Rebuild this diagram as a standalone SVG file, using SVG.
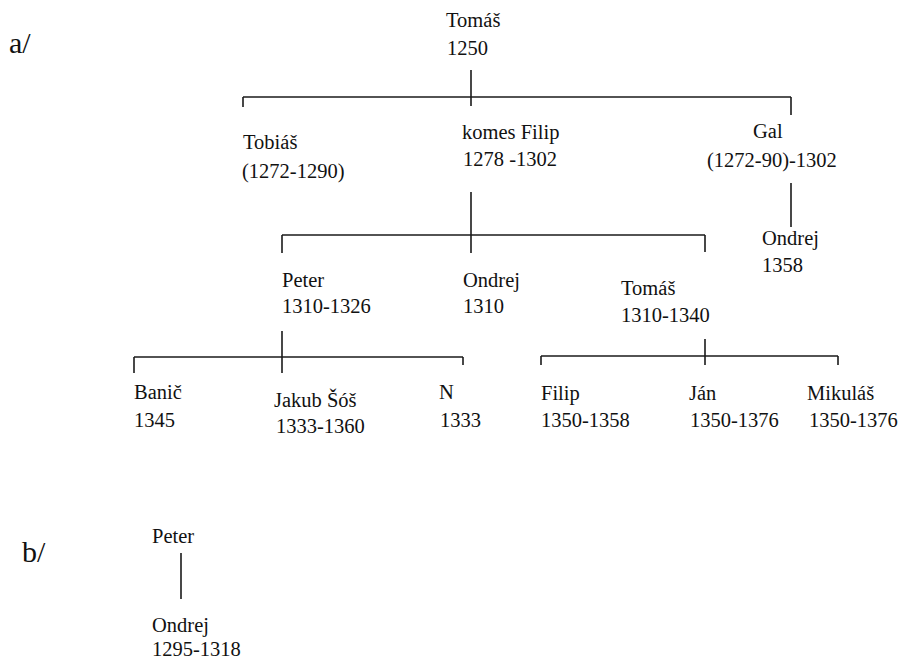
<svg xmlns="http://www.w3.org/2000/svg" width="901" height="660" viewBox="0 0 901 660">
<style>
text{font-family:'Liberation Serif','Times New Roman',Times,'DejaVu Serif',serif;font-size:20.5px;fill:#111}
.big{font-size:30px}
#connectors line{stroke:#1a1a1a;stroke-width:1.6}
</style>
<rect width="901" height="660" fill="#fff"/>
<g id="labels" font-family="Liberation Serif, DejaVu Serif, serif">
<text class="big" x="9" y="53">a/</text>
<text class="big" x="22" y="562">b/</text>
</g>
<g id="connectors">
<line x1="471" y1="70" x2="471" y2="106"/>
<line x1="243" y1="97" x2="791" y2="97"/>
<line x1="243" y1="97" x2="243" y2="107"/>
<line x1="791" y1="97" x2="791" y2="115"/>
<line x1="791" y1="183" x2="791" y2="227"/>
<line x1="471" y1="192" x2="471" y2="253"/>
<line x1="282" y1="235" x2="705" y2="235"/>
<line x1="282" y1="235" x2="282" y2="253"/>
<line x1="705" y1="235" x2="705" y2="252"/>
<line x1="282" y1="331" x2="282" y2="373"/>
<line x1="134" y1="357" x2="463" y2="357"/>
<line x1="134" y1="357" x2="134" y2="373"/>
<line x1="463" y1="357" x2="463" y2="365"/>
<line x1="705" y1="339" x2="705" y2="365"/>
<line x1="541" y1="356" x2="838" y2="356"/>
<line x1="541" y1="356" x2="541" y2="365"/>
<line x1="838" y1="356" x2="838" y2="365"/>
<line x1="181" y1="553" x2="181" y2="599"/>
</g>
<g id="tomas"><text x="446" y="27">Tomáš</text><text x="447" y="55">1250</text></g>
<g id="tobias"><text x="243" y="149">Tobiáš</text><text x="242" y="178">(1272-1290)</text></g>
<g id="filip"><text x="462" y="139">komes Filip</text><text x="463" y="166">1278 -1302</text></g>
<g id="gal"><text x="753" y="138">Gal</text><text x="707" y="167">(1272-90)-1302</text></g>
<g id="ondrej-gal"><text x="762" y="245">Ondrej</text><text x="762" y="272">1358</text></g>
<g id="peter"><text x="282" y="287">Peter</text><text x="282" y="313">1310-1326</text></g>
<g id="ondrej"><text x="463" y="287">Ondrej</text><text x="463" y="313">1310</text></g>
<g id="tomas2"><text x="621" y="295">Tomáš</text><text x="621" y="322">1310-1340</text></g>
<g id="banic"><text x="134" y="399">Banič</text><text x="134" y="427">1345</text></g>
<g id="jakub"><text x="274" y="407">Jakub Šóš</text><text x="276" y="433">1333-1360</text></g>
<g id="n"><text x="439" y="399">N</text><text x="440" y="427">1333</text></g>
<g id="filip2"><text x="541" y="400">Filip</text><text x="541" y="427">1350-1358</text></g>
<g id="jan"><text x="689" y="400">Ján</text><text x="690" y="427">1350-1376</text></g>
<g id="mikulas"><text x="807" y="400">Mikuláš</text><text x="809" y="427">1350-1376</text></g>
<g id="peter-b"><text x="152" y="543">Peter</text></g>
<g id="ondrej-b"><text x="152" y="632">Ondrej</text><text x="152" y="656">1295-1318</text></g>
</svg>
